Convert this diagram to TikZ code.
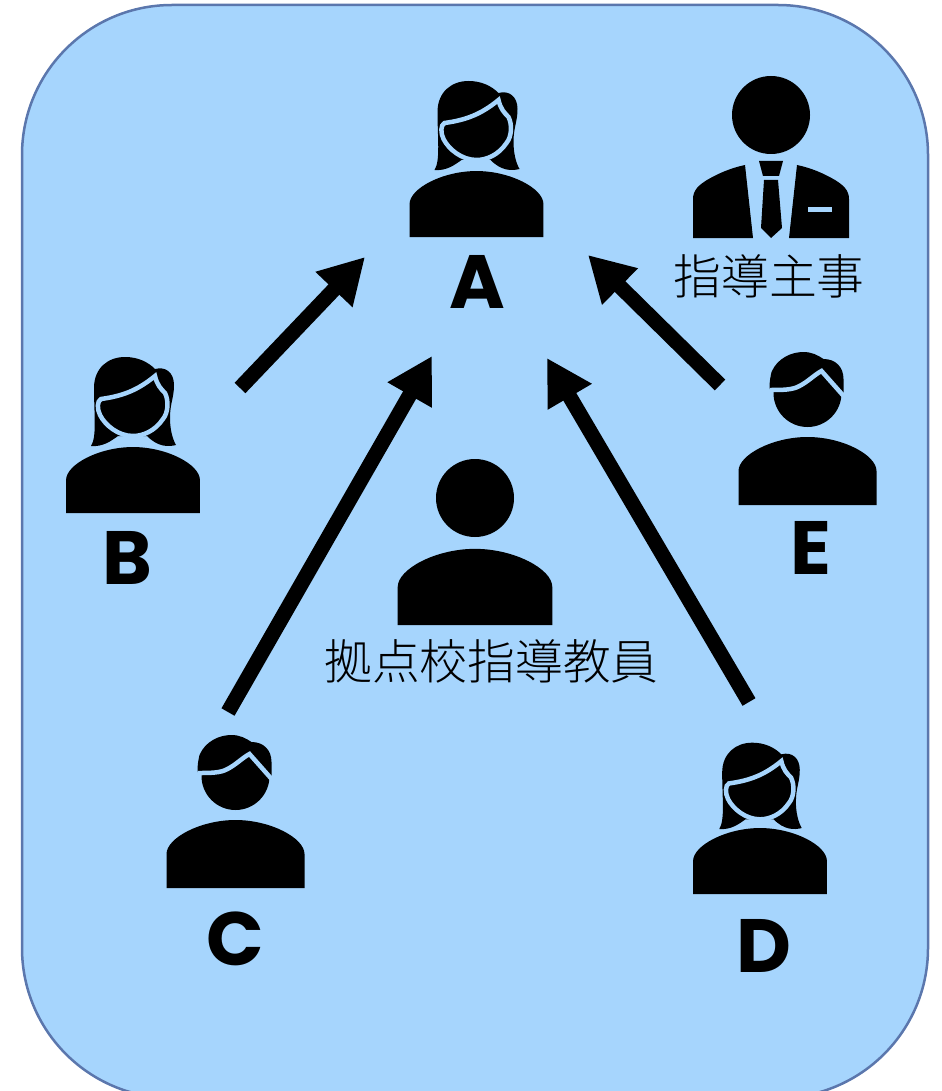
\documentclass[tikz,border=0pt]{standalone}
\usepackage{fontspec}
\setmainfont{Poppins}
\newfontfamily\jpfont{Noto Sans CJK JP Light}
\usetikzlibrary{arrows.meta}

\definecolor{panelblue}{HTML}{A6D5FD}
\definecolor{panelline}{HTML}{5B77AD}

\begin{document}
\begin{tikzpicture}[
    x=0.02cm,
    y=-0.02cm,
    >={Triangle[length=0.9cm,width=0.96cm]}
]

    % Icon parts, drawn from the middle of the bottom edge
    \tikzset{
        panel/.style={draw=panelline, fill=panelblue, line width=0.05cm, rounded corners=3cm},
        flow/.style={->, line width=0.3cm, black},
        letter/.style={font=\bfseries\fontsize{43}{46}\selectfont, inner sep=0pt},
        title/.style={font=\jpfont\fontsize{27.2}{30}\selectfont, inner sep=0pt},
        bust/.pic={
            \fill[black] (-69,0) -- (-69,-34)
                .. controls (-69,-50) and (-35,-68) .. (0,-68)
                .. controls (35,-68) and (69,-50) .. (69,-34) -- (69,0) -- cycle;
        },
        woman/.pic={
            \pic[scale=0.97] {bust};
            % Hair
            \fill[black] (-42,-67) .. controls (-36,-76) and (-39,-100) .. (-39,-125)
                .. controls (-39,-145) and (-25,-156) .. (-8,-156)
                .. controls (5,-156) and (15,-151) .. (22,-144)
                .. controls (33,-147) and (41,-140) .. (41,-128)
                .. controls (41,-115) and (37,-110) .. (37,-95)
                .. controls (37,-85) and (39,-75) .. (43,-68)
                .. controls (35,-66) and (25,-66) .. (14,-77)
                -- (-15,-77) .. controls (-22,-72) and (-30,-66) .. (-42,-67) -- cycle;
            % Face
            \draw[panelblue, fill=black, line width=0.09cm] (-32,-114)
                .. controls (-10,-117) and (5,-123) .. (22,-137)
                .. controls (24,-128) and (28,-124) .. (32,-120)
                .. controls (36,-112) and (35,-100) .. (30,-94)
                .. controls (22,-82) and (10,-77) .. (0,-77)
                .. controls (-15,-77) and (-28,-88) .. (-33,-98)
                .. controls (-36,-104) and (-36,-112) .. (-32,-114) -- cycle;
        },
        man/.pic={
            \pic {bust};
            \fill[black] (0,-112) circle[radius=34];
            % Hair
            \fill[black] (-38,-116) .. controls (-38,-125) and (-37,-128) .. (-36,-133)
                .. controls (-30,-147) and (-16,-153) .. (-4,-153)
                .. controls (4,-153) and (10,-150) .. (16,-146)
                .. controls (28,-146) and (36,-138) .. (36,-126)
                -- (36,-110) -- (0,-100) -- cycle;
            \draw[panelblue, line width=0.09cm] (-38,-115)
                .. controls (-25,-115) and (-15,-115) .. (-8,-119)
                .. controls (0,-123) and (8,-131) .. (14,-134) -- (37,-108);
        },
        suit/.pic={
            \fill[black] (0,-123) circle[radius=39];
            \fill[black] (-26,-73) -- (-18,0) -- (-78,0) -- (-78,-39)
                .. controls (-78,-48) and (-72,-53) .. (-64,-58)
                .. controls (-52,-65) and (-40,-70) .. (-26,-73) -- cycle;
            \fill[black] (26,-73) -- (18,0) -- (78,0) -- (78,-39)
                .. controls (78,-48) and (72,-53) .. (64,-58)
                .. controls (52,-65) and (40,-70) .. (26,-73) -- cycle;
            \fill[black] (-12,-77) -- (12,-77) -- (8,-62) -- (-8,-62) -- cycle;
            \fill[black] (-7,-58) -- (7,-58) -- (11,-10) -- (0,0) -- (-10,-10) -- cycle;
            \fill[panelblue] (37,-31) rectangle (61,-26);
        }
    }

    \useasboundingbox (0,0) rectangle (941,1091);

    \path[panel] (22,5) rectangle (928,1098);

    % People
    \pic (personA) at (476.5,237) {woman};
    \pic (personB) at (133,513) {woman};
    \pic[scale=0.97] (personD) at (760,894) {woman};
    \pic (personC) at (235.5,888) {man};
    \pic (personE) at (807.5,505) {man};
    \pic (chief) at (771,238) {suit};

    % Teacher in the middle
    \pic[scale=1.12] (teacher) at (475,625) {bust};
    \fill[black] (475,498) circle[radius=39];

    % Labels
    \node[letter] (labelA) at (477,282) {A};
    \node[letter] (labelB) at (127.5,558) {B};
    \node[letter] (labelC) at (235,939) {C};
    \node[letter] (labelD) at (764,946) {D};
    \node[letter] (labelE) at (811,548) {E};
    \node[title] (labelChief) at (769,276) {指導主事};
    \node[title] (labelTeacher) at (491.5,661) {拠点校指導教員};

    % Arrows into A
    \coordinate (fromB) at (240,388);
    \coordinate (toB) at (365,257);
    \coordinate (fromC) at (228,712);
    \coordinate (toC) at (432,356);
    \coordinate (fromD) at (749,702);
    \coordinate (toD) at (547,358);
    \coordinate (fromE) at (720,385);
    \coordinate (toE) at (588,255);

    \draw[flow] (fromB) -- (toB);
    \draw[flow] (fromC) -- (toC);
    \draw[flow] (fromD) -- (toD);
    \draw[flow] (fromE) -- (toE);

\end{tikzpicture}
\end{document}
